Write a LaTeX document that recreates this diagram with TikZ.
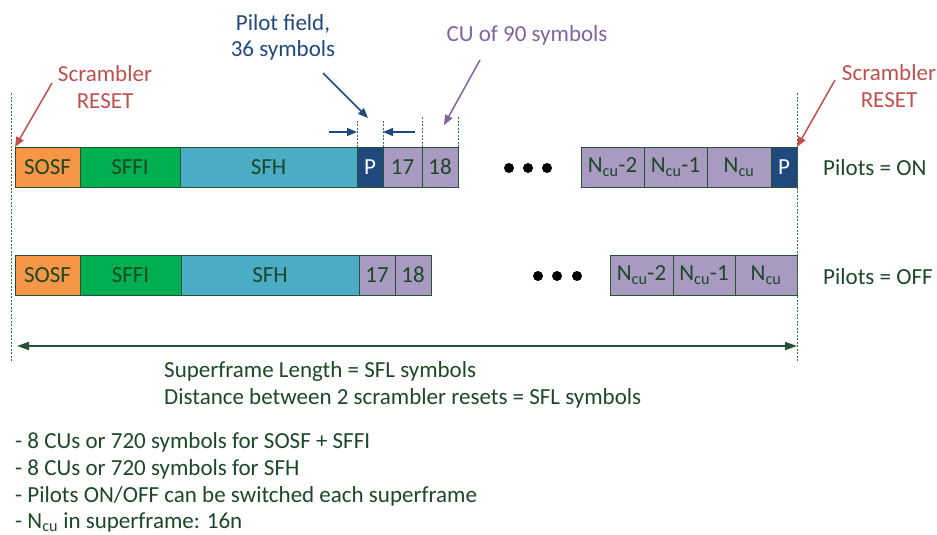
\documentclass[tikz,border=0pt]{standalone}
\usepackage{fontspec}
\setmainfont{Carlito}
\usetikzlibrary{arrows.meta}
\definecolor{sosfc}{RGB}{247,150,70}
\definecolor{sffic}{RGB}{0,176,80}
\definecolor{sfhc}{RGB}{75,172,198}
\definecolor{pilc}{RGB}{31,73,125}
\definecolor{cuc}{RGB}{168,154,192}
\definecolor{edgec}{RGB}{38,82,52}
\definecolor{txtc}{RGB}{28,72,40}
\definecolor{redc}{RGB}{192,80,77}
\definecolor{purc}{RGB}{128,100,162}
\definecolor{guidec}{RGB}{60,110,80}
\newcommand{\ncu}{N\textsubscript{cu}}
\begin{document}
\begin{tikzpicture}[x=1pt,y=-1pt,
  every node/.style={font=\fontsize{23}{27}\selectfont, text=txtc},
  blk/.style={draw=edgec, line width=1pt, minimum height=40pt, inner sep=0pt, outer sep=0pt},
  guide/.style={draw=guidec, dash pattern=on 2pt off 1.5pt, line width=0.8pt},
  ptr/.style={line width=1.5pt, -{Triangle[length=10pt,width=8pt]}},
  lbl/.style={align=center, inner sep=0pt}]
\useasboundingbox (0,0) rectangle (937,535);
\node[blk, fill=sosfc, minimum width=65pt] (sosfA) at (47.5,167) {SOSF};
\node[blk, fill=sffic, minimum width=100pt] (sffiA) at (130,167) {SFFI};
\node[blk, fill=sfhc, minimum width=177pt] (sfhA) at (268.5,167) {SFH};
\node[blk, fill=pilc, minimum width=26pt, text=white] (pA) at (370,167) {P};
\node[blk, fill=cuc, minimum width=39pt] (cuA17) at (402.5,167) {17};
\node[blk, fill=cuc, minimum width=36pt] (cuA18) at (440,167) {18};
\node[blk, fill=cuc, minimum width=63pt] (cuAm2) at (612.5,167) {\ncu-2};
\node[blk, fill=cuc, minimum width=63pt] (cuAm1) at (675.5,167) {\ncu-1};
\node[blk, fill=cuc, minimum width=64pt] (cuAn) at (739,167) {\ncu};
\node[blk, fill=pilc, minimum width=26pt, text=white] (pB) at (784,167) {P};
\node[blk, fill=sosfc, minimum width=65pt] (sosfB) at (47.5,275) {SOSF};
\node[blk, fill=sffic, minimum width=101pt] (sffiB) at (130.5,275) {SFFI};
\node[blk, fill=sfhc, minimum width=178pt] (sfhB) at (270,275) {SFH};
\node[blk, fill=cuc, minimum width=36pt] (cuB17) at (377,275) {17};
\node[blk, fill=cuc, minimum width=36pt] (cuB18) at (413,275) {18};
\node[blk, fill=cuc, minimum width=63pt] (cuBm2) at (641.5,275) {\ncu-2};
\node[blk, fill=cuc, minimum width=62pt] (cuBm1) at (704,275) {\ncu-1};
\node[blk, fill=cuc, minimum width=62pt] (cuBn) at (766,275) {\ncu};
\fill (509,168) circle (5) (528,168) circle (5) (547,168) circle (5);
\fill (538,276) circle (5) (557,276) circle (5) (577,276) circle (5);
\coordinate (rstLt) at (11,93);
\coordinate (rstLb) at (11,362);
\coordinate (rstRt) at (797,93);
\coordinate (rstRb) at (797,362);
\draw[guide] (rstLt) -- (rstLb);
\draw[guide] (rstRt) -- (rstRb);
\draw[guide] (pA.north west) -- ++(0,-28);
\draw[guide] (pA.north east) -- ++(0,-28);
\draw[guide] (cuA18.north west) -- ++(0,-31);
\draw[guide] (cuA18.north east) -- ++(0,-31);
\node[lbl, text=redc] (rstL) at (105,87) {Scrambler\\RESET};
\node[lbl, text=redc] (rstR) at (889,86) {Scrambler\\RESET};
\node[lbl, text=pilc, font=\fontsize{23}{26}\selectfont] (pilf) at (283,37) {Pilot field,\\36 symbols};
\node[lbl, text=purc, anchor=base] (cuf) at (527,42) {CU of 90 symbols};
\node[lbl, anchor=base west] (onA) at (823,175) {Pilots = ON};
\node[lbl, anchor=base west] (offB) at (823,284) {Pilots = OFF};
\coordinate (rLtail) at (52,83);
\coordinate (rRtail) at (835,80);
\coordinate (pilTail) at (323,73);
\coordinate (pilTip) at (368,118);
\coordinate (cuTail) at (480,60);
\coordinate (cuTip) at (444,125);
\coordinate (pwL) at (329,132);
\coordinate (pwR) at (415,132);
\draw[ptr, redc] (rLtail) -- (sosfA.north west);
\draw[ptr, redc] (rRtail) -- (pB.north east);
\draw[ptr, pilc] (pilTail) -- (pilTip);
\draw[ptr, purc] (cuTail) -- (cuTip);
\draw[ptr, pilc] (pwL) -- (pA.west |- pwL);
\draw[ptr, pilc] (pwR) -- (pA.east |- pwR);
\coordinate (lenL) at (17,346);
\coordinate (lenR) at (797,346);
\draw[edgec, line width=1.6pt, {Triangle[length=12pt,width=8pt]}-{Triangle[length=12pt,width=8pt]}] (lenL) -- (lenR);
\node[lbl, anchor=base west] (sfl) at (164,377) {Superframe Length = SFL symbols};
\node[lbl, anchor=base west] (dist) at (164,404) {Distance between 2 scrambler resets = SFL symbols};
\node[lbl, anchor=base west] (n1) at (15,448) {- 8 CUs or 720 symbols for SOSF + SFFI};
\node[lbl, anchor=base west] (n2) at (15,475) {- 8 CUs or 720 symbols for SFH};
\node[lbl, anchor=base west] (n3) at (15,502) {- Pilots ON/OFF can be switched each superframe};
\node[lbl, anchor=base west] (n4) at (15,528) {- \ncu{} in superframe: 16n};
\end{tikzpicture}
\end{document}
